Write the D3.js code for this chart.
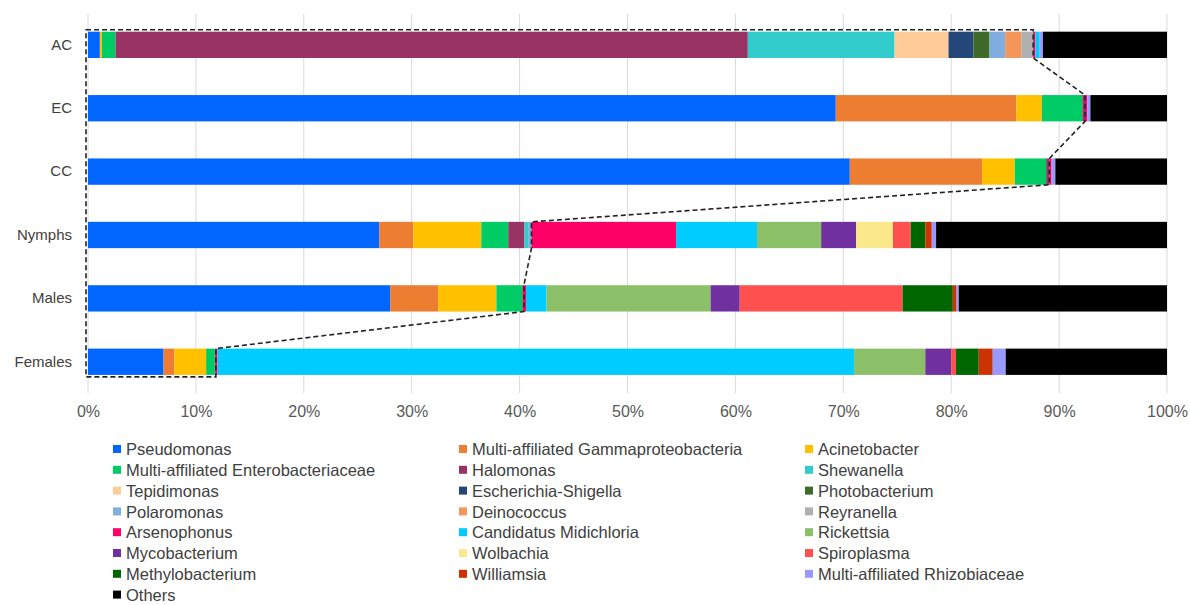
<!DOCTYPE html>
<html><head><meta charset="utf-8">
<script src="https://cdn.jsdelivr.net/npm/d3@7"></script>
<style>
body{margin:0;background:#fff;}
svg{display:block;font-family:"Liberation Sans",Arial,sans-serif;}
</style></head>
<body><svg id="chart" width="1190" height="605"></svg>
<script>
const categories = ["AC","EC","CC","Nymphs","Males","Females"];
const genera = ["Pseudomonas","Multi-affiliated Gammaproteobacteria","Acinetobacter","Multi-affiliated Enterobacteriaceae","Halomonas","Shewanella","Tepidimonas","Escherichia-Shigella","Photobacterium","Polaromonas","Deinococcus","Reyranella","Arsenophonus","Candidatus Midichloria","Rickettsia","Mycobacterium","Wolbachia","Spiroplasma","Methylobacterium","Williamsia","Multi-affiliated Rhizobiaceae","Others"];
const colors = ["#0066FF","#ED7D31","#FFC000","#00CC66","#993366","#33CCCC","#FFCC99","#254678","#3E6B2A","#7FADE0","#F4955A","#B0B0B0","#FF0066","#00CCFF","#8CC068","#7030A0","#FAE88A","#FF5050","#006600","#CC3300","#9999FF","#000000"];
// values per genus, order: AC, EC, CC, Nymphs, Males, Females (%)
const pseudomonas      = [1.1, 69.3, 70.6, 27.0, 28.0, 7.0];
const gammaproteo      = [0, 16.75, 12.25, 3.15, 4.45, 1.0];
const acinetobacter    = [0.2, 2.35, 3.05, 6.3, 5.4, 2.95];
const enterobacteria   = [1.25, 3.75, 2.9, 2.5, 2.4, 0.8];
const halomonas        = [58.6, 0.25, 0.3, 1.5, 0.15, 0.1];
const shewanella       = [13.6, 0, 0, 0.4, 0, 0];
const tepidimonas      = [5.0, 0, 0, 0, 0, 0];
const escherichia      = [2.3, 0, 0, 0, 0, 0];
const photobacterium   = [1.5, 0, 0, 0, 0, 0];
const polaromonas      = [1.45, 0, 0, 0.25, 0, 0];
const deinococcus      = [1.5, 0, 0, 0, 0, 0];
const reyranella       = [1.1, 0, 0, 0, 0, 0];
const arsenophonus     = [0.2, 0.2, 0.2, 13.4, 0.2, 0.15];
const midichloria      = [0.4, 0, 0, 7.5, 1.9, 59.0];
const rickettsia       = [0, 0, 0, 5.95, 15.2, 6.6];
const mycobacterium    = [0, 0, 0, 3.25, 2.7, 2.4];
const wolbachia        = [0, 0, 0, 3.4, 0, 0];
const spiroplasma      = [0, 0, 0, 1.65, 15.1, 0.45];
const methylobacterium = [0, 0, 0, 1.35, 4.65, 2.1];
const williamsia       = [0, 0, 0, 0.6, 0.35, 1.3];
const rhizobiaceae     = [0.3, 0.3, 0.35, 0.4, 0.2, 1.2];
const others           = [11.5, 7.1, 10.35, 21.4, 19.3, 14.95];
const xTicks = [0,10,20,30,40,50,60,70,80,90,100];

const seriesValues = [pseudomonas,gammaproteo,acinetobacter,enterobacteria,halomonas,shewanella,tepidimonas,escherichia,photobacterium,polaromonas,deinococcus,reyranella,arsenophonus,midichloria,rickettsia,mycobacterium,wolbachia,spiroplasma,methylobacterium,williamsia,rhizobiaceae,others];

const rows = categories.map((c,i)=>{const r={cat:c}; genera.forEach((g,j)=>r[g]=seriesValues[j][i]); return r;});
const stacked = d3.stack().keys(genera)(rows);

const svg = d3.select("#chart");
const x = d3.scaleLinear().domain([0,100]).range([88,1167]);
const y = d3.scaleBand().domain(categories).range([13.3,393.3]).paddingInner(0.585).paddingOuter(0.29);

// gridlines
svg.append("g").selectAll("line").data(xTicks).join("line")
  .attr("x1",d=>x(d)).attr("x2",d=>x(d)).attr("y1",14).attr("y2",393)
  .attr("stroke","#D9D9D9").attr("stroke-width",1);

// bars
svg.append("g").selectAll("g").data(stacked).join("g")
  .attr("fill",(d,i)=>colors[i])
  .selectAll("rect").data(d=>d).join("rect")
  .attr("x",d=>x(d[0])).attr("width",d=>Math.max(0,x(d[1])-x(d[0])))
  .attr("y",d=>y(d.data.cat)).attr("height",y.bandwidth());

// x axis
const xAxis = svg.append("g").attr("transform","translate(0,393)")
  .call(d3.axisBottom(x).tickValues(xTicks).tickFormat(d=>d+"%").tickSize(0).tickPadding(13));
xAxis.select(".domain").remove();
xAxis.selectAll("text").attr("fill","#595959").style("font-size","16px");

// y axis
const yAxis = svg.append("g").attr("transform","translate(88,0)")
  .call(d3.axisLeft(y).tickSize(0).tickPadding(16));
yAxis.select(".domain").remove();
yAxis.selectAll("text").attr("fill","#404040").style("font-size","15px");

// dashed outline around the shared portion (up to the start of Arsenophonus)
const arsIdx = genera.indexOf("Arsenophonus");
const bnd = stacked[arsIdx].map(d=>d[0]);
const pts = [];
const off = 2;
pts.push([x(0)-off, y(categories[0])-off]);
categories.forEach((c,i)=>{
  const top = y(c) - (i===0?off:0);
  const bot = y(c)+y.bandwidth() + (i===categories.length-1?off:0);
  pts.push([x(bnd[i]), top]);
  pts.push([x(bnd[i]), bot]);
});
pts.push([x(0)-off, y(categories[categories.length-1])+y.bandwidth()+off]);
svg.append("path").attr("d", d3.line()(pts)+"Z")
  .attr("fill","none").attr("stroke","#222").attr("stroke-width",1.6)
  .attr("stroke-dasharray","5,3");

// legend
const legend = svg.append("g");
genera.forEach((g,i)=>{
  const col = i%3, row = Math.floor(i/3);
  const lx = 113 + col*346, ly = 449.5 + row*20.8;
  legend.append("rect").attr("x",lx).attr("y",ly-4.5).attr("width",8).attr("height",8).attr("fill",colors[i]);
  legend.append("text").attr("x",lx+13).attr("y",ly).attr("dy","0.35em")
    .attr("fill","#404040").style("font-size","16.5px").text(g);
});
</script></body></html>
